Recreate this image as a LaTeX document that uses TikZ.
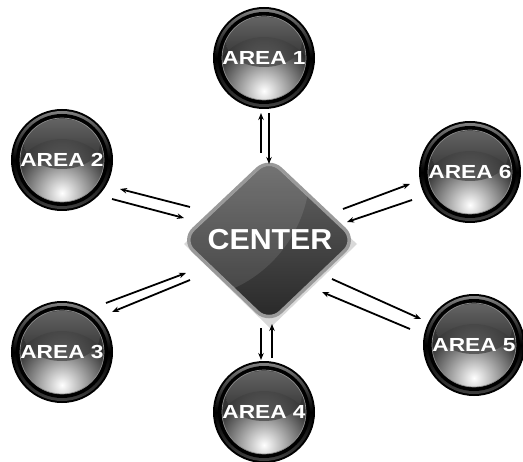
\documentclass[tikz,border=0pt]{standalone}
\usepackage{fontspec}
\setmainfont{Liberation Sans}
\usetikzlibrary{arrows.meta}
\tikzset{
  ball/.style={circle, minimum size=102bp, inner sep=0pt, fill=black, text=white,
    font=\fontsize{19}{21}\selectfont\bfseries,
    path picture={
      \coordinate (pc) at (path picture bounding box.center);
      \shade[top color=black!50, bottom color=black!75, middle color=black] (pc) circle (49bp);
      \fill[black] (pc) circle (46bp);
      \begin{scope}
        \clip (pc) circle (42bp);
        \fill[black!80] (pc) circle (43bp);
        \shade[inner color=white, outer color=black!85] ([yshift=-33bp]pc) circle (54bp);
        \shade[top color=black!45, bottom color=black!85, opacity=.55] ([yshift=16bp]pc) ellipse (38bp and 25bp);
      \end{scope}
      \draw[black!45, line width=0.7bp] (pc) circle (42bp);
    }},
  arr/.style={line width=1.8bp, -{Stealth[length=7bp,width=5.5bp]}},
  lbl/.style={text=white, font=\fontsize{29}{31}\selectfont\bfseries}
}
\begin{document}
\begin{tikzpicture}[x=1bp,y=-1bp]
\useasboundingbox[fill=white] (0,0) rectangle (523,462);
% center diamond
\fill[black!15] (184,244) -- (270,164) -- (357,244) -- (270,328) -- cycle;
\shade[rounded corners=16bp, shading angle=45, top color=black!60, bottom color=black!85,
  draw=black!40, line width=3.5bp] (182,240) -- (269,158) -- (356,240) -- (269,323) -- cycle;
\begin{scope}
  \clip[rounded corners=16bp] (184,240) -- (269,160) -- (354,240) -- (269,321) -- cycle;
  \fill[white, opacity=.10] (180,170) circle (130bp);
\end{scope}
\node[lbl] (ctr) at (270,240) {\scalebox{1.05}[1]{CENTER}};
% areas
\node[ball] (a1) at (264,58)  {\scalebox{1.2}[1]{AREA 1}};
\node[ball] (a2) at (62,160)  {\scalebox{1.2}[1]{AREA 2}};
\node[ball] (a6) at (470,172) {\scalebox{1.2}[1]{AREA 6}};
\node[ball] (a3) at (62,352)  {\scalebox{1.2}[1]{AREA 3}};
\node[ball] (a5) at (474,345) {\scalebox{1.2}[1]{AREA 5}};
\node[ball] (a4) at (264,412) {\scalebox{1.2}[1]{AREA 4}};
% arrow end points
\coordinate (p1a) at (261,153); \coordinate (q1a) at (261,113);
\coordinate (p1b) at (269,113); \coordinate (q1b) at (269,164);
\coordinate (p4a) at (261,328); \coordinate (q4a) at (261,360);
\coordinate (p4b) at (272,358); \coordinate (q4b) at (272,324);
\coordinate (p2a) at (190,207); \coordinate (q2a) at (120,189);
\coordinate (p2b) at (112,199); \coordinate (q2b) at (184,218);
\coordinate (p6a) at (343,209); \coordinate (q6a) at (410,184);
\coordinate (p6b) at (412,200); \coordinate (q6b) at (347,222);
\coordinate (p3a) at (106,303); \coordinate (q3a) at (186,273);
\coordinate (p3b) at (190,280); \coordinate (q3b) at (112,312);
\coordinate (p5a) at (332,279); \coordinate (q5a) at (421,319);
\coordinate (p5b) at (410,329); \coordinate (q5b) at (322,292);
\foreach \s/\e in {p1a/q1a,p1b/q1b,p4a/q4a,p4b/q4b,p2a/q2a,p2b/q2b,p6a/q6a,p6b/q6b,p3a/q3a,p3b/q3b,p5a/q5a,p5b/q5b}
  \draw[arr] (\s) -- (\e);
\end{tikzpicture}
\end{document}
